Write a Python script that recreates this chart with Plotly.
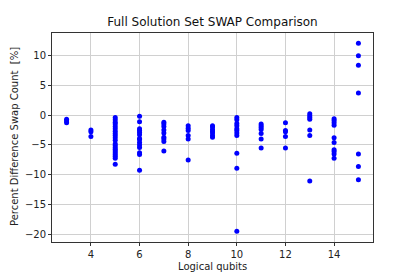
import plotly.graph_objects as go

qubits_3 = [-0.7, -1.0, -1.3]
qubits_4 = [-2.5, -2.8, -3.6]
qubits_5 = [-0.4, -0.8, -1.2, -1.5, -1.9, -2.3, -2.7, -3.1, -3.4, -3.8, -4.2,
            -4.8, -5.1, -5.4, -5.7, -6.0, -6.3, -6.6, -6.9, -7.2, -8.2]
qubits_6 = [-0.2, -1.1, -2.3, -2.6, -2.9, -3.3, -3.9, -4.1, -4.6, -5.0, -5.4, -6.3, -6.6, -9.2]
qubits_7 = [-1.2, -1.5, -1.9, -2.5, -3.0, -3.7, -4.0, -4.4, -6.0]
qubits_8 = [-1.8, -2.2, -2.6, -3.4, -4.0, -7.5]
qubits_9 = [-1.8, -2.0, -2.4, -2.7, -3.0, -3.4, -3.7]
qubits_10 = [-0.4, -0.8, -1.4, -1.8, -2.3, -2.6, -3.0, -3.4, -6.4, -8.9, -19.4]
qubits_11 = [-1.5, -1.8, -2.1, -2.4, -3.1, -4.0, -5.5]
qubits_12 = [-1.3, -2.6, -2.8, -3.6, -5.5]
qubits_13 = [0.2, -0.1, -0.4, -0.7, -2.5, -3.4, -11.0]
qubits_14 = [-0.6, -0.9, -1.3, -1.7, -3.8, -4.6, -5.8, -6.1, -6.5, -7.2]
qubits_15 = [12.0, 9.9, 8.3, 3.7, -6.5, -8.6, -10.8]

groups = {3: qubits_3, 4: qubits_4, 5: qubits_5, 6: qubits_6, 7: qubits_7,
          8: qubits_8, 9: qubits_9, 10: qubits_10, 11: qubits_11, 12: qubits_12,
          13: qubits_13, 14: qubits_14, 15: qubits_15}

xs, ys = [], []
for q, vals in groups.items():
    for v in vals:
        xs.append(q)
        ys.append(v)

x_ticks = [4, 6, 8, 10, 12, 14]
y_ticks = [10, 5, 0, -5, -10, -15, -20]

fig = go.Figure(go.Scatter(
    x=xs, y=ys, mode="markers",
    marker=dict(color="#0000ff", size=5, line=dict(width=0)),
    showlegend=False,
))

axis_common = dict(
    showline=True, linecolor="#333333", linewidth=1, mirror=True,
    showgrid=True, gridcolor="#d0d0d0", gridwidth=1,
    ticks="outside", ticklen=3, tickcolor="#333333",
    zeroline=False, automargin=False,
    tickfont=dict(family="DejaVu Sans", size=10, color="#222222"),
)

label_font = dict(family="DejaVu Sans", size=10, color="#222222")

fig.update_layout(
    width=415, height=277,
    margin=dict(l=52, r=42, t=33, b=35),
    paper_bgcolor="white", plot_bgcolor="white",
    title=dict(text="Full Solution Set SWAP Comparison", x=0.512, xanchor="center",
               y=1 - 22 / 277, yanchor="middle",
               font=dict(family="DejaVu Sans", size=12, color="#111111")),
    xaxis=dict(range=[2.4, 15.6], tickvals=x_ticks, **axis_common),
    yaxis=dict(range=[-21.2, 13.7], tickvals=y_ticks,
               ticktext=[str(v).replace("-", "\u2212") for v in y_ticks],
               **axis_common),
    annotations=[
        dict(text="Logical qubits", xref="paper", yref="paper",
             x=0.5, y=-(266 - 242) / 209, xanchor="center", yanchor="middle",
             showarrow=False, font=label_font),
        dict(text="Percent Difference Swap Count  [%]", xref="paper", yref="paper",
             x=-(52 - 14) / 321, y=(242 - 137) / 209, xanchor="center", yanchor="middle",
             textangle=-90, showarrow=False, font=label_font),
    ],
)

fig.write_html("out.html",
               config={"displayModeBar": False},
               post_script="document.body.style.margin='0';document.body.style.overflow='hidden';")
